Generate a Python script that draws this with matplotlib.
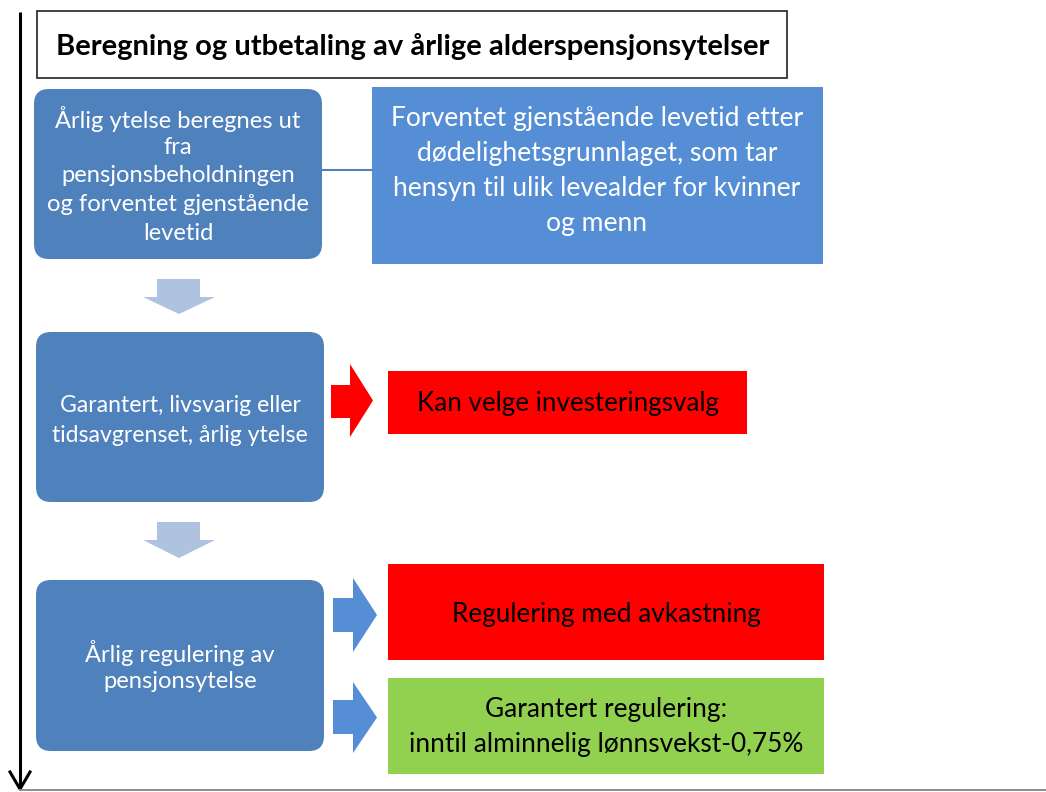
import matplotlib
matplotlib.use("Agg")
import matplotlib.pyplot as plt
from matplotlib.patches import FancyBboxPatch, Rectangle, Polygon

FONT = ["Lato", "DejaVu Sans"]

title = "Beregning og utbetaling av årlige alderspensjonsytelser"
step_texts = [
    ["Årlig ytelse beregnes ut", "fra", "pensjonsbeholdningen",
     "og forventet gjenstående", "levetid"],
    ["Garantert, livsvarig eller", "tidsavgrenset, årlig ytelse"],
    ["Årlig regulering av", "pensjonsytelse"],
]
side_texts = [
    ["Forventet gjenstående levetid etter", "dødelighetsgrunnlaget, som tar",
     "hensyn til ulik levealder for kvinner", "og menn"],
    ["Kan velge investeringsvalg"],
    ["Regulering med avkastning"],
    ["Garantert regulering:", "inntil alminnelig lønnsvekst-0,75%"],
]

C_STEP = "#4F81BD"
C_SIDE = "#558ED5"
C_DOWN = "#AFC2DF"
C_RED = "#FF0000"
C_GREEN = "#92D050"

W, H = 1046, 792
fig = plt.figure(figsize=(W / 100, H / 100), dpi=100)
ax = fig.add_axes([0, 0, 1, 1])
ax.set_xlim(0, W)
ax.set_ylim(H, 0)
ax.axis("off")
fig.canvas.draw()
renderer = fig.canvas.get_renderer()


def fit_lines(x, y_first, spacing, lines, target_w, color, weight="normal", size0=16):
    widest = max(lines, key=len)
    probe = ax.text(0, 0, widest, fontsize=size0, fontweight=weight, family=FONT)
    wbest = 0
    for ln in lines:
        probe.set_text(ln)
        wbest = max(wbest, probe.get_window_extent(renderer=renderer).width)
    probe.remove()
    size = size0 * target_w / wbest
    for i, ln in enumerate(lines):
        ax.text(x, y_first + i * spacing, ln, ha="center", va="center_baseline",
                color=color, fontsize=size, fontweight=weight, family=FONT)


def down_arrow(x0, x1, y0, y1, sx0, sx1, sy, color):
    pts = [(sx0, y0), (sx1, y0), (sx1, sy), (x1, sy), ((x0 + x1) / 2, y1),
           (x0, sy), (sx0, sy)]
    ax.add_patch(Polygon(pts, closed=True, facecolor=color, edgecolor="none"))


def right_arrow(x0, hx, x1, y0, y1, sy0, sy1, color):
    pts = [(x0, sy0), (hx, sy0), (hx, y0), (x1, (y0 + y1) / 2), (hx, y1),
           (hx, sy1), (x0, sy1)]
    ax.add_patch(Polygon(pts, closed=True, facecolor=color, edgecolor="none"))


# timeline arrow
ax.plot([20, 20], [12, 788], color="black", lw=2.2, solid_capstyle="butt")
ax.plot([10, 20, 30], [772, 789, 772], color="black", lw=2.2)
ax.plot([20, W], [790, 790], color="#8C8C8C", lw=1.4)

# title box
ax.add_patch(Rectangle((37, 11), 750, 67, facecolor="white", edgecolor="#222222", lw=1.2))
fit_lines(413, 44, 0, [title], 713, "black", weight="bold", size0=20)

# step boxes
step_boxes = [(34, 89, 288, 170), (36, 332, 288, 170), (36, 580, 288, 171)]
for (x, y, w, h) in step_boxes:
    ax.add_patch(FancyBboxPatch((x, y), w, h, boxstyle="round,pad=0,rounding_size=15",
                                facecolor=C_STEP, edgecolor="none"))

fit_lines(178, 117, 28.5, step_texts[0], 264, "white")
fit_lines(180, 404, 29, step_texts[1], 256, "white")
fit_lines(180, 651, 29, step_texts[2], 191, "white")

# connector
ax.plot([322, 372], [170, 170], color=C_STEP, lw=1.5)

# side boxes
ax.add_patch(Rectangle((372, 87), 451, 177, facecolor=C_SIDE, edgecolor="none"))
fit_lines(597, 116, 35, side_texts[0], 413, "white")

ax.add_patch(Rectangle((388, 371), 359, 63, facecolor=C_RED, edgecolor="none"))
fit_lines(568, 401, 0, side_texts[1], 303, "black")

ax.add_patch(Rectangle((388, 564), 436, 96, facecolor=C_RED, edgecolor="none"))
fit_lines(606, 612, 0, side_texts[2], 310, "black")

ax.add_patch(Rectangle((388, 678), 436, 96, facecolor=C_GREEN, edgecolor="none"))
fit_lines(606, 707, 35, side_texts[3], 394, "black")

# down arrows
down_arrow(143, 215, 279, 314, 157, 200, 297, C_DOWN)
down_arrow(143, 215, 522, 558, 157, 200, 540, C_DOWN)

# right arrows
right_arrow(331, 350, 373, 364, 437, 385, 418, C_RED)
right_arrow(333, 353, 377, 578, 652, 598, 632, C_SIDE)
right_arrow(333, 353, 377, 682, 753, 700, 734, C_SIDE)

fig.savefig("out.png", dpi=100)
